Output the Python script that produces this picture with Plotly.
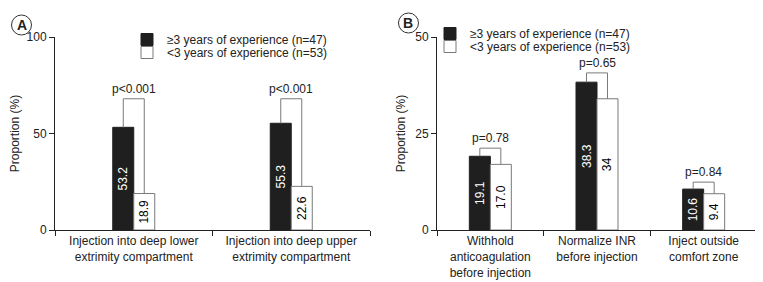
import plotly.graph_objects as go

# ---- data ----
cats_a = ["Injection into deep lower<br>extrimity compartment",
          "Injection into deep upper<br>extrimity compartment"]
exp_a = [53.2, 55.3]
novice_a = [18.9, 22.6]
exp_a_txt = ["53.2", "55.3"]
novice_a_txt = ["18.9", "22.6"]
p_a = ["p<0.001", "p<0.001"]
bracket_a = [68, 68]

cats_b = ["Withhold<br>anticoagulation<br>before injection",
          "Normalize INR<br>before injection",
          "Inject outside<br>comfort zone"]
exp_b = [19.1, 38.3, 10.6]
novice_b = [17.0, 34, 9.4]
exp_b_txt = ["19.1", "38.3", "10.6"]
novice_b_txt = ["17.0", "34", "9.4"]
p_b = ["p=0.78", "p=0.65", "p=0.84"]
bracket_b = [21.2, 40.7, 12.4]

name_exp = "\u22653 years of experience (n=47)"
name_nov = "<3 years of experience (n=53)"

# ---- style ----
OFF = 8  # page body margin
W, H = 763 - OFF, 282 - OFF
FONT = "Liberation Sans, Arial, sans-serif"
TXT = "#222"
BLACK = "#1f1f1f"
GRAY = "#7a7a7a"
y_top, y_bot = 37 - OFF, 230 - OFF
dom_y = [(H - y_bot) / H, (H - y_top) / H]
dom_xa = [(55 - OFF) / W, (370 - OFF) / W]
dom_xb = [(437 - OFF) / W, (757 - OFF) / W]
wa = 21 / 157.5
wb = 21 / 106.7

fig = go.Figure()

def add_panel(cats, ev, nv, et, nt, w, xa, ya, leg1, leg2):
    fig.add_trace(go.Bar(x=cats, y=ev, text=et, name=name_exp, width=w, offset=-w,
                         marker=dict(color=BLACK, line=dict(color=BLACK, width=1)),
                         textposition="inside", insidetextanchor="middle", textangle=-90,
                         textfont=dict(color="white", size=12, family=FONT),
                         xaxis=xa, yaxis=ya, legend=leg1, showlegend=True))
    fig.add_trace(go.Bar(x=cats, y=nv, text=nt, name=name_nov, width=w, offset=0,
                         marker=dict(color="white", line=dict(color=GRAY, width=1)),
                         textposition="inside", insidetextanchor="middle", textangle=-90,
                         textfont=dict(color="black", size=12, family=FONT),
                         xaxis=xa, yaxis=ya, legend=leg2, showlegend=True))

add_panel(cats_a, exp_a, novice_a, exp_a_txt, novice_a_txt, wa, "x", "y", "legend", "legend3")
add_panel(cats_b, exp_b, novice_b, exp_b_txt, novice_b_txt, wb, "x2", "y2", "legend2", "legend4")

shapes = []
annotations = []

def add_brackets(ev, nv, tops, ps, w, xr, yr):
    for i, (e, n, t, p) in enumerate(zip(ev, nv, tops, ps)):
        xl, xr_ = i - w / 2, i + w / 2
        for x0, y0 in ((xl, e), (xr_, n)):
            shapes.append(dict(type="line", xref=xr, yref=yr, x0=x0, x1=x0, y0=y0, y1=t,
                               line=dict(color=GRAY, width=1)))
        shapes.append(dict(type="line", xref=xr, yref=yr, x0=xl, x1=xr_, y0=t, y1=t,
                           line=dict(color=GRAY, width=1)))
        annotations.append(dict(x=i, y=t, xref=xr, yref=yr, text=p, showarrow=False,
                                yanchor="bottom", yshift=2, borderpad=0,
                                font=dict(size=12, color=TXT, family=FONT)))

add_brackets(exp_a, novice_a, bracket_a, p_a, wa, "x", "y")
add_brackets(exp_b, novice_b, bracket_b, p_b, wb, "x2", "y2")

# panel letters
for lab, cx, cy in (("A", 21.5 - OFF, 25 - OFF), ("B", 408.5 - OFF, 23 - OFF)):
    shapes.append(dict(type="circle", xref="paper", yref="paper",
                       x0=(cx - 10) / W, x1=(cx + 10) / W,
                       y0=1 - (cy + 10) / H, y1=1 - (cy - 10) / H,
                       line=dict(color="#333", width=1)))
    annotations.append(dict(x=cx / W, y=1 - cy / H, xref="paper", yref="paper",
                            text="<b>" + lab + "</b>", showarrow=False,
                            xanchor="center", yanchor="middle",
                            font=dict(size=14, color=TXT, family=FONT)))

yax = dict(showline=True, linecolor="#222", linewidth=1, ticks="outside", ticklen=5,
           tickcolor="#222", showgrid=False, zeroline=False, automargin=False,
           tickfont=dict(size=12, color=TXT, family=FONT),
           title=dict(text="Proportion (%)", font=dict(size=12, color=TXT, family=FONT), standoff=7))
xax = dict(showline=True, linecolor="#222", linewidth=1, ticks="outside", ticklen=5,
           tickcolor="#222", tickson="boundaries", showgrid=False, automargin=False,
           tickfont=dict(size=12, color=TXT, family=FONT))

def legend(x, ytop):
    return dict(x=x / W, y=1 - ytop / H, xanchor="left", yanchor="top",
                bgcolor="rgba(0,0,0,0)", font=dict(size=12, color=TXT, family=FONT),
                tracegroupgap=0)

fig.update_layout(
    width=W, height=H, margin=dict(l=0, r=0, t=0, b=0, autoexpand=False),
    paper_bgcolor="white", plot_bgcolor="white",
    barmode="overlay", showlegend=True,
    font=dict(family=FONT, size=12, color=TXT),
    xaxis=dict(domain=dom_xa, range=[-0.5, 1.5], **xax),
    yaxis=dict(domain=dom_y, range=[0, 100], tickvals=[0, 50, 100], anchor="x", **yax),
    xaxis2=dict(domain=dom_xb, range=[-0.5, 2.5], anchor="y2", **xax),
    yaxis2=dict(domain=dom_y, range=[0, 50], tickvals=[0, 25, 50], anchor="x2", **yax),
    legend=legend(119, 17),
    legend3=legend(119, 30),
    legend2=legend(422, 11),
    legend4=legend(422, 24),
    shapes=shapes, annotations=annotations,
)

fig.write_html("out.html")
